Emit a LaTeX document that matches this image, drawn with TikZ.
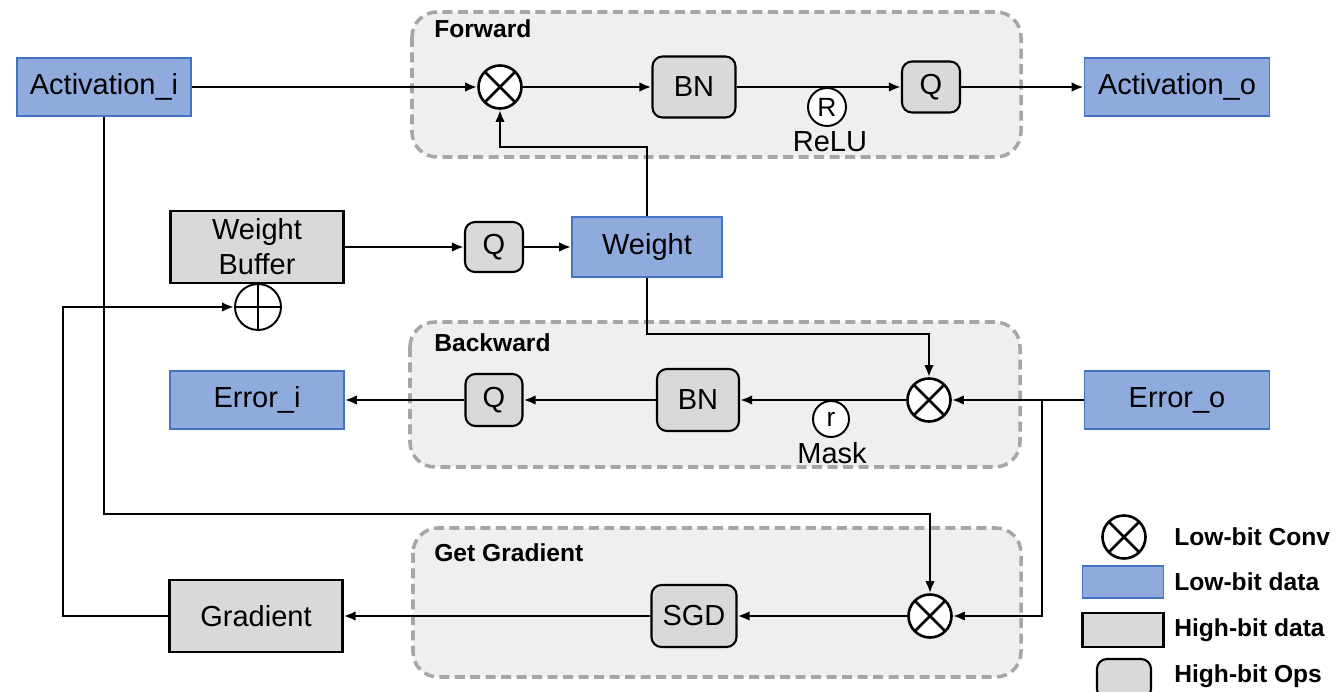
\documentclass[tikz,border=0pt]{standalone}
\usepackage{fontspec}
\setmainfont{Liberation Sans}
\usetikzlibrary{arrows.meta,positioning,calc}
\definecolor{lowblue}{RGB}{143,170,220}
\definecolor{lowblueedge}{RGB}{68,114,196}
\definecolor{highgrey}{RGB}{217,217,217}
\definecolor{groupfill}{RGB}{239,239,239}
\definecolor{groupedge}{RGB}{166,166,166}

\begin{document}
\begin{tikzpicture}[x=0.02cm, y=-0.02cm,
    font=\fontsize{16.5}{20}\selectfont,
    lowdata/.style={rectangle, draw=lowblueedge, line width=0.9pt, fill=lowblue, minimum height=1.17cm, inner sep=0pt},
    highdata/.style={rectangle, draw=black, line width=1.2pt, fill=highgrey, minimum width=3.46cm, minimum height=1.44cm, inner sep=0pt, align=center},
    highop/.style={rectangle, rounded corners=0.2cm, draw=black, line width=1.2pt, fill=highgrey, inner sep=0pt},
    conv/.style={circle, draw, line width=1.5pt, fill=white, minimum size=0.86cm, inner sep=0pt,
        path picture={\draw[line width=1.5pt] (path picture bounding box.north west) -- (path picture bounding box.south east)
            (path picture bounding box.north east) -- (path picture bounding box.south west);}},
    addop/.style={circle, draw, line width=1.1pt, fill=white, minimum size=0.92cm, inner sep=0pt,
        path picture={\draw[line width=1.1pt] (path picture bounding box.north) -- (path picture bounding box.south)
            (path picture bounding box.west) -- (path picture bounding box.east);}},
    actfn/.style={circle, draw, line width=1.1pt, fill=white, inner sep=0pt, minimum size=0.74cm, font=\fontsize{15}{16}\selectfont},
    group/.style={draw=groupedge, fill=groupfill, line width=2pt, dash pattern=on 2mm off 1.1mm, rounded corners=0.5cm},
    grouplabel/.style={font=\fontsize{14}{16}\selectfont\bfseries, anchor=west, inner sep=0pt},
    legendtext/.style={font=\fontsize{14}{16}\selectfont\bfseries, anchor=west, inner sep=0pt},
    arr/.style={-{Latex[length=2.4mm,width=1.9mm]}, line width=1.4pt}]
    \useasboundingbox (0,0) rectangle (1340,692);

    % stage frames
    \draw[group] (412,12) rectangle (1021,157);
    \draw[group] (410,322) rectangle (1020,467);
    \draw[group] (413,528) rectangle (1021,677);
    \node[grouplabel] (fwdlbl) at (434,29) {Forward};
    \node[grouplabel] (bwdlbl) at (434,343) {Backward};
    \node[grouplabel] (ggrlbl) at (434,553) {Get Gradient};

    % forward
    \node[lowdata, minimum width=3.48cm] (acti) at (104,87) {Activation\_i};
    \node[conv] (fconv) at (500,87) {};
    \node[highop, minimum width=1.66cm, minimum height=1.22cm] (fbn) at (694,87) {BN};
    \node[highop, minimum width=1.16cm, minimum height=1.02cm] (fq) at (931,87) {Q};
    \node[lowdata, minimum width=3.7cm] (acto) at (1177,87) {Activation\_o};

    % weight path
    \node[highdata] (wbuf) at (257,247) {Weight\\Buffer};
    \node[addop] (wadd) at (258,307) {};
    \node[highop, minimum width=1.16cm, minimum height=1.0cm] (wq) at (494,247) {Q};
    \node[lowdata, minimum width=3.0cm, minimum height=1.2cm] (weight) at (647,247) {Weight};

    % backward
    \node[lowdata, minimum width=3.48cm] (erri) at (257,400) {Error\_i};
    \node[highop, minimum width=1.14cm, minimum height=1.04cm] (bq) at (494,400) {Q};
    \node[highop, minimum width=1.64cm, minimum height=1.24cm] (bbn) at (698,400) {BN};
    \node[conv] (bconv) at (929,400) {};
    \node[lowdata, minimum width=3.7cm] (erro) at (1177,400) {Error\_o};

    % gradient
    \node[highdata] (grad) at (256,616) {Gradient};
    \node[highop, minimum width=1.7cm, minimum height=1.24cm] (sgd) at (694,616) {SGD};
    \node[conv] (gconv) at (930,616) {};

    \draw[arr] (acti) -- (fconv);
    \draw[arr] (fconv) -- (fbn);
    \draw[arr] (fbn) -- (fq);
    \draw[arr] (fq) -- (acto);
    \coordinate (wturn) at (647,147);
    \draw[arr] (weight.north) -- (wturn) -| (fconv.south);
    \draw[arr] (wbuf) -- (wq);
    \draw[arr] (wq) -- (weight);
    \coordinate (wdown) at (647,334);
    \draw[arr] (weight.south) -- (wdown) -| (bconv.north);
    \draw[arr] (erro) -- (bconv);
    \coordinate (esplit) at (1042,400);
    \draw[arr] (esplit) |- (gconv.east);
    \draw[arr] (bconv) -- (bbn);
    \draw[arr] (bbn) -- (bq);
    \draw[arr] (bq) -- (erri);
    \coordinate (aturn) at (104,514);
    \draw[arr] (acti.south) -- (aturn) -| (gconv.north);
    \draw[arr] (gconv) -- (sgd);
    \draw[arr] (sgd) -- (grad);
    \coordinate (gturn) at (63,307);
    \draw[arr] (grad.west) -| (gturn) -- (wadd.west);

    % activation marks
    \node[actfn, minimum size=0.76cm] (relu) at (827,107) {R};
    \node (relulbl) at (830,142) {ReLU};
    \node[actfn, minimum size=0.72cm] (mask) at (831,419) {r};
    \node (masklbl) at (832,453) {Mask};

    % legend
    \node[conv] (lgconv) at (1124,537) {};
    \node[legendtext] (lgconvtxt) at (1174,537) {Low-bit Conv};
    \node[lowdata, minimum width=1.62cm, minimum height=0.64cm] (lglow) at (1123,582) {};
    \node[legendtext] (lglowtxt) at (1174,582) {Low-bit data};
    \node[highdata, minimum width=1.62cm, minimum height=0.68cm] (lghigh) at (1123,630) {};
    \node[legendtext] (lghightxt) at (1174,630) {High-bit data};
    \node[highop, minimum width=1.08cm, minimum height=0.8cm] (lgop) at (1124,679) {};
    \node[legendtext] (lgoptxt) at (1174,676) {High-bit Ops};
\end{tikzpicture}
\end{document}
